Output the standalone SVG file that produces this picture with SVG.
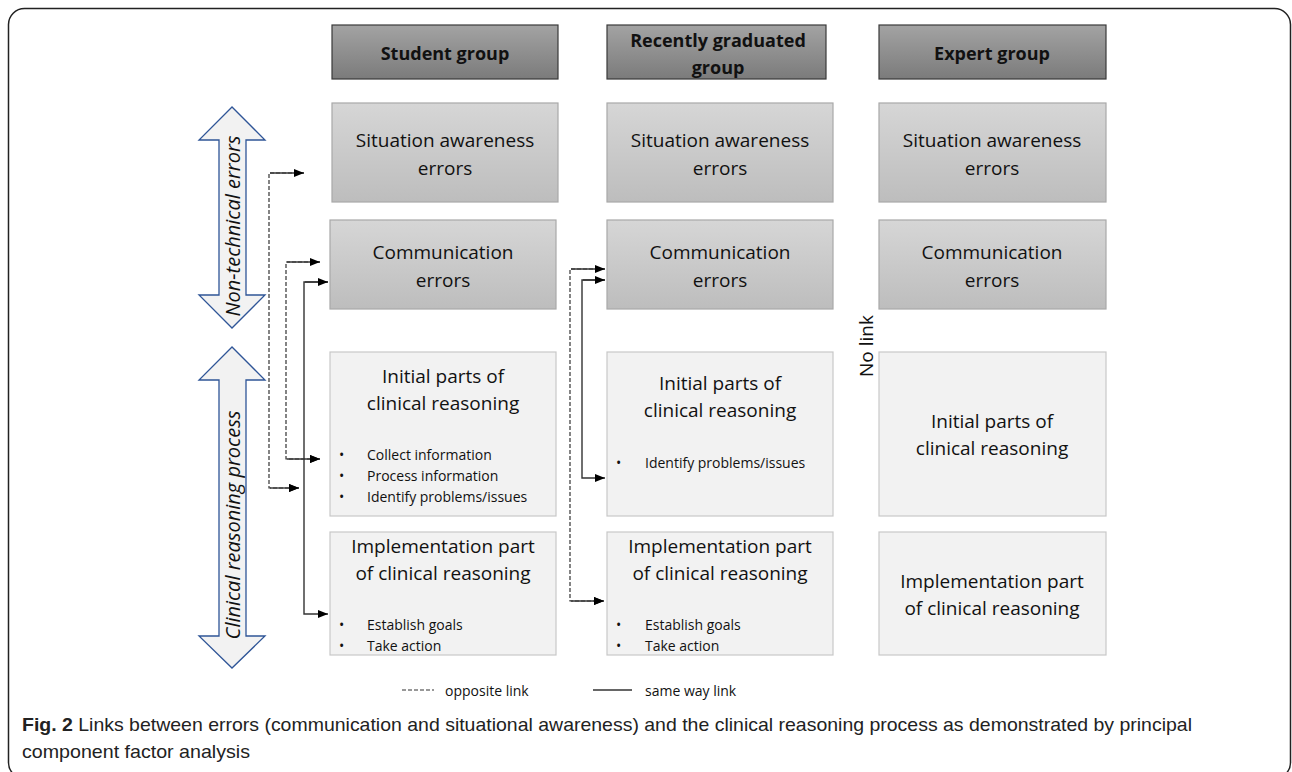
<svg xmlns="http://www.w3.org/2000/svg" width="1292" height="772" viewBox="0 0 1292 772">
<defs>
<linearGradient id="gHead" x1="0" y1="0" x2="0" y2="1"><stop offset="0" stop-color="#a3a3a3"/><stop offset="1" stop-color="#7b7b7b"/></linearGradient>
<linearGradient id="gErr" x1="0" y1="0" x2="0" y2="1"><stop offset="0" stop-color="#d6d6d6"/><stop offset="1" stop-color="#bdbdbd"/></linearGradient>
<marker id="ah" viewBox="0 0 10 8" refX="10" refY="4" markerWidth="10" markerHeight="8" markerUnits="userSpaceOnUse" orient="auto"><path d="M0,0 L10,4 L0,8 Z" fill="#000"/></marker>
<style>
.head{fill:url(#gHead);stroke:#3a3a3a;stroke-width:1.2}
.err{fill:url(#gErr);stroke:#a8a8a8;stroke-width:1.2}
.cr{fill:#f2f2f2;stroke:#c8c8c8;stroke-width:1.2}
.t{font-family:"Open Sans","Liberation Sans",sans-serif;font-size:19px;fill:#111;text-anchor:middle;dominant-baseline:central}
.th{font-family:"Open Sans","Liberation Sans",sans-serif;font-size:18px;font-weight:bold;fill:#111;text-anchor:middle;dominant-baseline:central}
.b{font-family:"Open Sans","Liberation Sans",sans-serif;font-size:14px;fill:#111;dominant-baseline:central}
.dash{fill:none;stroke:#333;stroke-width:1.2;stroke-dasharray:4,2}
.solid{fill:none;stroke:#333;stroke-width:1.4}
.big{fill:#f2f2f2;stroke:#2f5597;stroke-width:1.3}
.lab{font-family:"Open Sans","Liberation Sans",sans-serif;font-size:20px;font-style:italic;fill:#111;text-anchor:middle;dominant-baseline:central}
.cap{font-family:"Liberation Sans",sans-serif;font-size:19px;fill:#222}
</style>
</defs>
<rect x="8.5" y="8.5" width="1282" height="770" rx="16" fill="#fff" stroke="#222" stroke-width="1.5"/>

<g id="side-arrows">
<path class="big" d="M232,107 L199,140 L219,140 L219,295 L199,295 L232,328 L265,295 L246,295 L246,140 L265,140 Z"/>
<text class="lab" transform="translate(232,226) rotate(-90)">Non-technical errors</text>
<path class="big" d="M232,347 L199,380 L219,380 L219,636 L199,636 L232,668 L265,636 L246,636 L246,380 L265,380 Z"/>
<text class="lab" transform="translate(232,525) rotate(-90)">Clinical reasoning process</text>
</g>

<g id="hdr-student"><rect class="head" x="332" y="25" width="226" height="54"/><text class="th" x="445" y="53">Student group</text></g>
<g id="hdr-recent"><rect class="head" x="607" y="25" width="219" height="54"/><text class="th" x="718" y="40">Recently graduated</text><text class="th" x="718" y="67">group</text></g>
<g id="hdr-expert"><rect class="head" x="879" y="25" width="227" height="54"/><text class="th" x="992" y="53">Expert group</text></g>

<g id="s-sa"><rect class="err" x="332" y="103" width="226" height="99"/><text class="t" x="445" y="140">Situation awareness</text><text class="t" x="445" y="168">errors</text></g>
<g id="r-sa"><rect class="err" x="607" y="103" width="226" height="99"/><text class="t" x="720" y="140">Situation awareness</text><text class="t" x="720" y="168">errors</text></g>
<g id="e-sa"><rect class="err" x="879" y="103" width="227" height="99"/><text class="t" x="992" y="140">Situation awareness</text><text class="t" x="992" y="168">errors</text></g>

<g id="s-com"><rect class="err" x="330" y="220" width="226" height="89"/><text class="t" x="443" y="252">Communication</text><text class="t" x="443" y="280">errors</text></g>
<g id="r-com"><rect class="err" x="607" y="220" width="226" height="89"/><text class="t" x="720" y="252">Communication</text><text class="t" x="720" y="280">errors</text></g>
<g id="e-com"><rect class="err" x="879" y="220" width="227" height="89"/><text class="t" x="992" y="252">Communication</text><text class="t" x="992" y="280">errors</text></g>

<g id="s-init"><rect class="cr" x="330" y="352" width="226" height="164"/><text class="t" x="443" y="376">Initial parts of</text><text class="t" x="443" y="403">clinical reasoning</text>
<text class="b" x="339" y="454">•</text><text class="b" x="367" y="454">Collect information</text>
<text class="b" x="339" y="475">•</text><text class="b" x="367" y="475">Process information</text>
<text class="b" x="339" y="496">•</text><text class="b" x="367" y="496">Identify problems/issues</text></g>
<g id="r-init"><rect class="cr" x="607" y="352" width="226" height="164"/><text class="t" x="720" y="383">Initial parts of</text><text class="t" x="720" y="410">clinical reasoning</text>
<text class="b" x="616" y="462">•</text><text class="b" x="645" y="462">Identify problems/issues</text></g>
<g id="e-init"><rect class="cr" x="879" y="352" width="227" height="164"/><text class="t" x="992" y="421">Initial parts of</text><text class="t" x="992" y="448">clinical reasoning</text></g>

<g id="s-impl"><rect class="cr" x="330" y="532" width="226" height="123"/><text class="t" x="443" y="546">Implementation part</text><text class="t" x="443" y="573">of clinical reasoning</text>
<text class="b" x="339" y="624">•</text><text class="b" x="367" y="624">Establish goals</text>
<text class="b" x="339" y="645">•</text><text class="b" x="367" y="645">Take action</text></g>
<g id="r-impl"><rect class="cr" x="607" y="532" width="226" height="123"/><text class="t" x="720" y="546">Implementation part</text><text class="t" x="720" y="573">of clinical reasoning</text>
<text class="b" x="616" y="624">•</text><text class="b" x="645" y="624">Establish goals</text>
<text class="b" x="616" y="645">•</text><text class="b" x="645" y="645">Take action</text></g>
<g id="e-impl"><rect class="cr" x="879" y="532" width="227" height="123"/><text class="t" x="992" y="581">Implementation part</text><text class="t" x="992" y="608">of clinical reasoning</text></g>

<g id="nolink"><text class="t" transform="translate(866,346) rotate(-90)">No link</text></g>

<g id="connectors">
<path class="dash" d="M304,173 L269,173 L269,488 L299,488" marker-end="url(#ah)"/>
<path class="solid" d="M270,173 L304,173" marker-end="url(#ah)"/>
<path class="dash" d="M320,262 L286,262 L286,459 L320,459" marker-end="url(#ah)"/>
<path class="solid" d="M287,262 L320,262" marker-end="url(#ah)"/>
<path class="solid" d="M328,282 L304,282 L304,614 L328,614" marker-end="url(#ah)"/>
<path class="solid" d="M305,282 L328,282" marker-end="url(#ah)"/>
<path class="solid" d="M270,488 L299,488" marker-end="url(#ah)"/>
<path class="solid" d="M287,459 L320,459" marker-end="url(#ah)"/>
<path class="dash" d="M605,269 L570,269 L570,601 L604,601" marker-end="url(#ah)"/>
<path class="solid" d="M571,269 L605,269" marker-end="url(#ah)"/>
<path class="solid" d="M571,601 L604,601" marker-end="url(#ah)"/>
<path class="solid" d="M605,280 L582,280 L582,478 L605,478" marker-end="url(#ah)"/>
<path class="solid" d="M583,280 L605,280" marker-end="url(#ah)"/>
</g>

<g id="legend">
<line class="dash" x1="402" y1="690" x2="434" y2="690"/>
<text class="b" x="445" y="690">opposite link</text>
<line class="solid" x1="593" y1="690" x2="632" y2="690"/>
<text class="b" x="645" y="690">same way link</text>
</g>

<g id="caption">
<text class="cap" x="22" y="731" textLength="1170" lengthAdjust="spacingAndGlyphs"><tspan font-weight="bold">Fig. 2</tspan> Links between errors (communication and situational awareness) and the clinical reasoning process as demonstrated by principal</text>
<text class="cap" x="22" y="758" textLength="228" lengthAdjust="spacingAndGlyphs">component factor analysis</text>
</g>
</svg>
